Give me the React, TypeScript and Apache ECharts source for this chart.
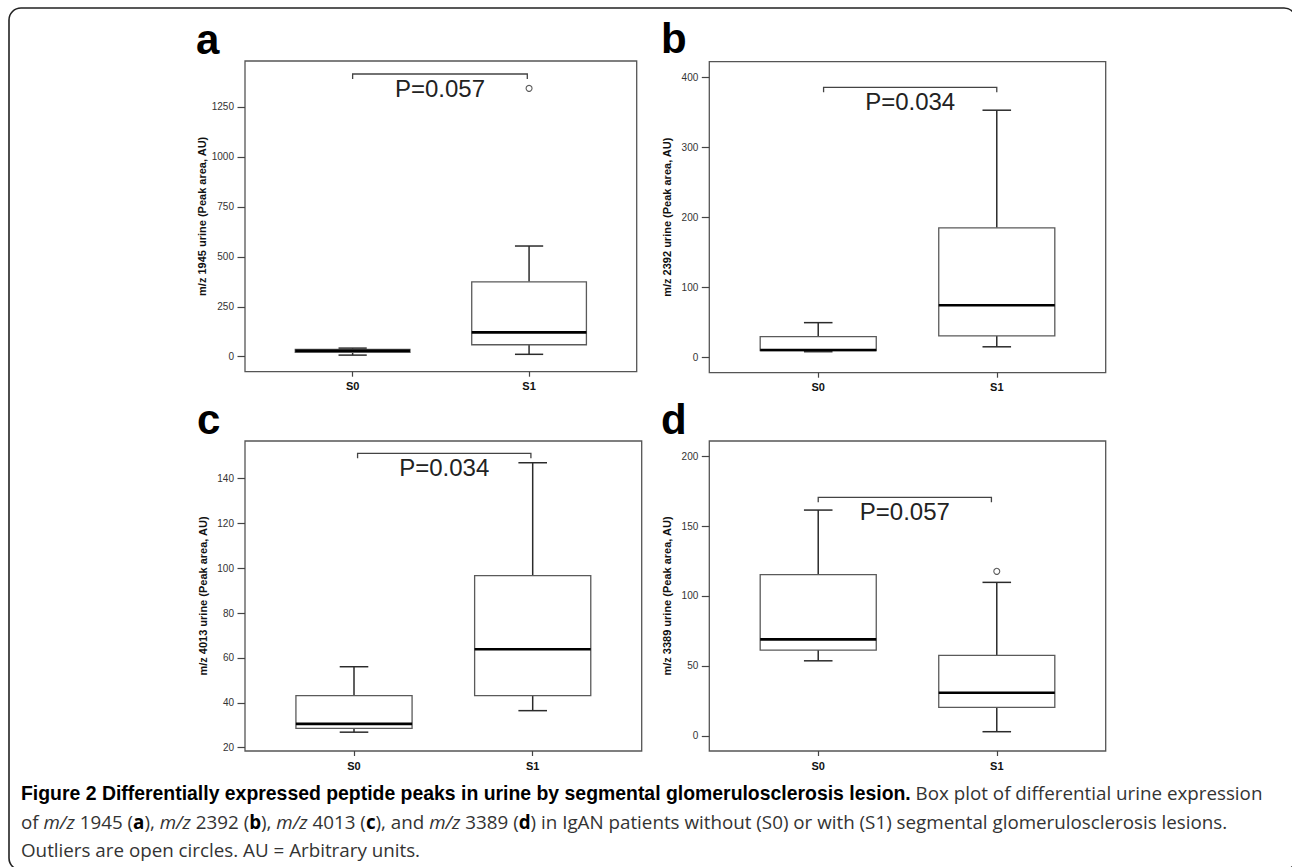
import React, { useEffect, useRef } from "react";
import * as echarts from "echarts";

// ---------- data ----------
const categories = ["S0", "S1"];
const panelLetters = ["a", "b", "c", "d"];
const yTitles = [
  "m/z 1945 urine (Peak area, AU)",
  "m/z 2392 urine (Peak area, AU)",
  "m/z 4013 urine (Peak area, AU)",
  "m/z 3389 urine (Peak area, AU)",
];
// [low whisker, Q1, median, Q3, high whisker] for S0 and S1
const boxA = [[8, 22, 30, 37, 43], [12, 60, 122, 375, 554]];
const boxB = [[8, 9.5, 10.5, 29.5, 49.5], [15, 30.5, 74.3, 185, 353]];
const boxC = [[26.9, 28.6, 30.6, 43.2, 56.1], [36.5, 43.2, 63.9, 96.7, 147.1]];
const boxD = [[53.6, 61.3, 68.9, 115.2, 161.4], [2.9, 20.3, 30.8, 57.5, 109.7]];
const boxes = [boxA, boxB, boxC, boxD];
// outliers: [category position, value]
const outliersA = [[2, 1343]];
const outliersB: number[][] = [];
const outliersC: number[][] = [];
const outliersD = [[2, 117.6]];
const outliers = [outliersA, outliersB, outliersC, outliersD];
// p-value labels and bracket heights (data units) with bracket ends
const pLabels = ["P=0.057", "P=0.034", "P=0.034", "P=0.057"];
const bracketY = [1415, 385.7, 151.3, 170.5];
const bracketEnds = [[1.0, 1.99], [1.03, 2.0], [1.02, 1.99], [1.0, 1.97]];
// axis ranges and ticks
const yMin = [-75, -22, 18.5, -10.9];
const yMax = [1480, 422.3, 156.8, 210.8];
const yTicks = [
  [0, 250, 500, 750, 1000, 1250],
  [0, 100, 200, 300, 400],
  [20, 40, 60, 80, 100, 120, 140],
  [0, 50, 100, 150, 200],
];
const xTicks = [1, 2];

const captionTitle = "Figure 2 Differentially expressed peptide peaks in urine by segmental glomerulosclerosis lesion.";
const captionLine1Rest = " Box plot of differential urine expression";
const captionLine2 =
  "{r|of }{i|m/z}{r| 1945 (}{bb|a}{r|), }{i|m/z}{r| 2392 (}{bb|b}{r|), }{i|m/z}{r| 4013 (}{bb|c}{r|), and }{i|m/z}{r| 3389 (}{bb|d}{r|) in IgAN patients without (S0) or with (S1) segmental glomerulosclerosis lesions.}";
const captionLine3 = "{r|Outliers are open circles. AU = Arbitrary units.}";

// ---------- layout ----------
const grids = [
  { left: 245, top: 61, width: 391.7, height: 310.7 },
  { left: 709.3, top: 61.7, width: 396.4, height: 311 },
  { left: 245, top: 441, width: 396.7, height: 310 },
  { left: 709.3, top: 441, width: 396.4, height: 310 },
];
const letterPos = [
  [196, 60],
  [661, 59.5],
  [197, 440],
  [661, 440],
];

const BOX_HALF = 0.325;
const CAP_HALF = 0.08;
const ARIAL = "'Liberation Sans', Arial, sans-serif";
const NARROW = "'Liberation Sans Narrow', 'Arial Narrow', 'Liberation Sans', sans-serif";
const OPEN = "'Open Sans', 'Noto Sans', sans-serif";
const CAP_SIZE = 18.8;

function measure(text: string, font: string) {
  const c = document.createElement("canvas");
  const ctx = c.getContext("2d")!;
  ctx.font = font;
  return ctx.measureText(text).width;
}

export default function App() {
  const ref = useRef<HTMLDivElement>(null);
  useEffect(() => {
    if (!ref.current) return;
    const chart = echarts.init(ref.current, undefined, { renderer: "svg" });

    const xAxis = grids.map((_, i) => ({
      type: "value",
      gridIndex: i,
      min: 0.39,
      max: 2.61,
      axisLine: { show: false, onZero: false },
      splitLine: { show: false },
      axisTick: { show: true, inside: false, length: 5, customValues: xTicks, lineStyle: { color: "#444", width: 1.2 } },
      axisLabel: {
        show: true,
        customValues: xTicks,
        margin: 9,
        formatter: (v: number) => categories[Math.round(v) - 1] ?? "",
        fontFamily: ARIAL,
        fontWeight: "bold",
        fontSize: 11,
        color: "#111",
      },
    }));
    const yAxis = grids.map((_, i) => ({
      type: "value",
      gridIndex: i,
      min: yMin[i],
      max: yMax[i],
      name: yTitles[i],
      nameLocation: "middle",
      nameRotate: 90,
      nameGap: 37,
      nameTextStyle: { fontFamily: ARIAL, fontWeight: "bold", fontSize: 11, color: "#111" },
      axisLine: { show: false, onZero: false },
      splitLine: { show: false },
      axisTick: { show: true, inside: false, length: 7.5, customValues: yTicks[i], lineStyle: { color: "#444", width: 1.2 } },
      axisLabel: {
        show: true,
        customValues: yTicks[i],
        margin: 11,
        formatter: (v: number) => String(v),
        fontFamily: NARROW,
        fontSize: 10,
        color: "#333",
      },
    }));

    const series: any[] = [];
    boxes.forEach((b, i) => {
      series.push({
        type: "custom",
        xAxisIndex: i,
        yAxisIndex: i,
        data: b.map((v, k) => [k + 1, ...v]),
        encode: { x: 0, y: [1, 2, 3, 4, 5] },
        renderItem: (params: any, api: any) => {
          const x = api.value(0);
          const lo = api.value(1), q1 = api.value(2), med = api.value(3), q3 = api.value(4), hi = api.value(5);
          const c = (xx: number, yy: number) => api.coord([xx, yy]);
          const [xc, yLo] = c(x, lo);
          const [, yHi] = c(x, hi);
          const [xl, yQ3] = c(x - BOX_HALF, q3);
          const [xr, yQ1] = c(x + BOX_HALF, q1);
          const [, yMed] = c(x, med);
          const [cl] = c(x - CAP_HALF, lo);
          const [cr] = c(x + CAP_HALF, lo);
          const wStyle = { stroke: "#2b2b2b", lineWidth: 1.5 };
          return {
            type: "group",
            children: [
              { type: "line", shape: { x1: xc, y1: yQ3, x2: xc, y2: yHi }, style: wStyle },
              { type: "line", shape: { x1: xc, y1: yQ1, x2: xc, y2: yLo }, style: wStyle },
              { type: "line", shape: { x1: cl, y1: yHi, x2: cr, y2: yHi }, style: wStyle },
              { type: "line", shape: { x1: cl, y1: yLo, x2: cr, y2: yLo }, style: wStyle },
              {
                type: "rect",
                shape: { x: xl, y: yQ3, width: xr - xl, height: yQ1 - yQ3 },
                style: { fill: "#fff", stroke: "#5a5a5a", lineWidth: 1.3 },
              },
              { type: "line", shape: { x1: xl, y1: yMed, x2: xr, y2: yMed }, style: { stroke: "#000", lineWidth: 2.6 } },
            ],
          };
        },
        z: 2,
      });
      series.push({
        type: "scatter",
        xAxisIndex: i,
        yAxisIndex: i,
        data: outliers[i],
        symbol: "circle",
        symbolSize: 6,
        itemStyle: { color: "#fff", borderColor: "#333", borderWidth: 1.1 },
        z: 3,
      });
      series.push({
        type: "custom",
        xAxisIndex: i,
        yAxisIndex: i,
        data: [[bracketEnds[i][0], bracketEnds[i][1], bracketY[i]]],
        encode: { x: [0, 1], y: 2 },
        renderItem: (params: any, api: any) => {
          const [x1, yT] = api.coord([api.value(0), api.value(2)]);
          const [x2] = api.coord([api.value(1), api.value(2)]);
          return {
            type: "group",
            children: [
              {
                type: "polyline",
                shape: { points: [[x1, yT + 5], [x1, yT], [x2, yT], [x2, yT + 5]] },
                style: { stroke: "#444", lineWidth: 1.3, fill: "none" },
              },
              {
                type: "text",
                x: (x1 + x2) / 2,
                y: yT + 14.5,
                style: {
                  text: pLabels[i],
                  fontFamily: ARIAL,
                  fontSize: 24,
                  fill: "#222",
                  align: "center",
                  verticalAlign: "middle",
                },
              },
            ],
          };
        },
        z: 4,
      });
    });

    const graphic: any[] = [
      {
        type: "rect",
        shape: { x: 9, y: 8, width: 1287, height: 862, r: 12 },
        style: { fill: "none", stroke: "#222", lineWidth: 1.6 },
        z: -1,
      },
      ...panelLetters.map((l, i) => ({
        type: "text",
        x: letterPos[i][0],
        y: letterPos[i][1],
        style: {
          text: l,
          fontFamily: ARIAL,
          fontWeight: "bold",
          fontSize: 42,
          fill: "#000",
          align: "left",
          verticalAlign: "bottom",
        },
      })),
    ];

    // caption: the bold title is sized so that the first line ends where the reference's does
    const restW = measure(captionLine1Rest, `${CAP_SIZE}px ${OPEN}`);
    const titleW18 = measure(captionTitle, `bold 18px ${NARROW}`);
    const titleSize = Math.max(15, Math.min(22, (18 * (1263 - 21 - restW)) / titleW18));

    const capRich = {
      t: { fontFamily: NARROW, fontWeight: "bold", fontSize: titleSize, fill: "#000" },
      bb: { fontFamily: OPEN, fontWeight: "bold", fontSize: CAP_SIZE, fill: "#000" },
      i: { fontFamily: OPEN, fontStyle: "italic", fontSize: CAP_SIZE, fill: "#333" },
      r: { fontFamily: OPEN, fontSize: CAP_SIZE, fill: "#333" },
    };
    const captionLines = [
      `{t|${captionTitle}}{r|${captionLine1Rest}}`,
      captionLine2,
      captionLine3,
    ];
    captionLines.forEach((t, k) => {
      graphic.push({
        type: "text",
        x: 21,
        y: 802.5 + k * 28.5,
        style: { text: t, rich: capRich, align: "left", verticalAlign: "bottom", fontSize: CAP_SIZE, fontFamily: OPEN },
      });
    });

    chart.setOption({
      animation: false,
      backgroundColor: "#fff",
      grid: grids.map((g) => ({ ...g, show: true, borderColor: "#555", borderWidth: 1.3, backgroundColor: "transparent" })),
      xAxis,
      yAxis,
      series,
      graphic,
    });
    return () => chart.dispose();
  }, []);
  return <div ref={ref} style={{ position: "fixed", left: 0, top: 0, width: 1292, height: 867 }} />;
}
